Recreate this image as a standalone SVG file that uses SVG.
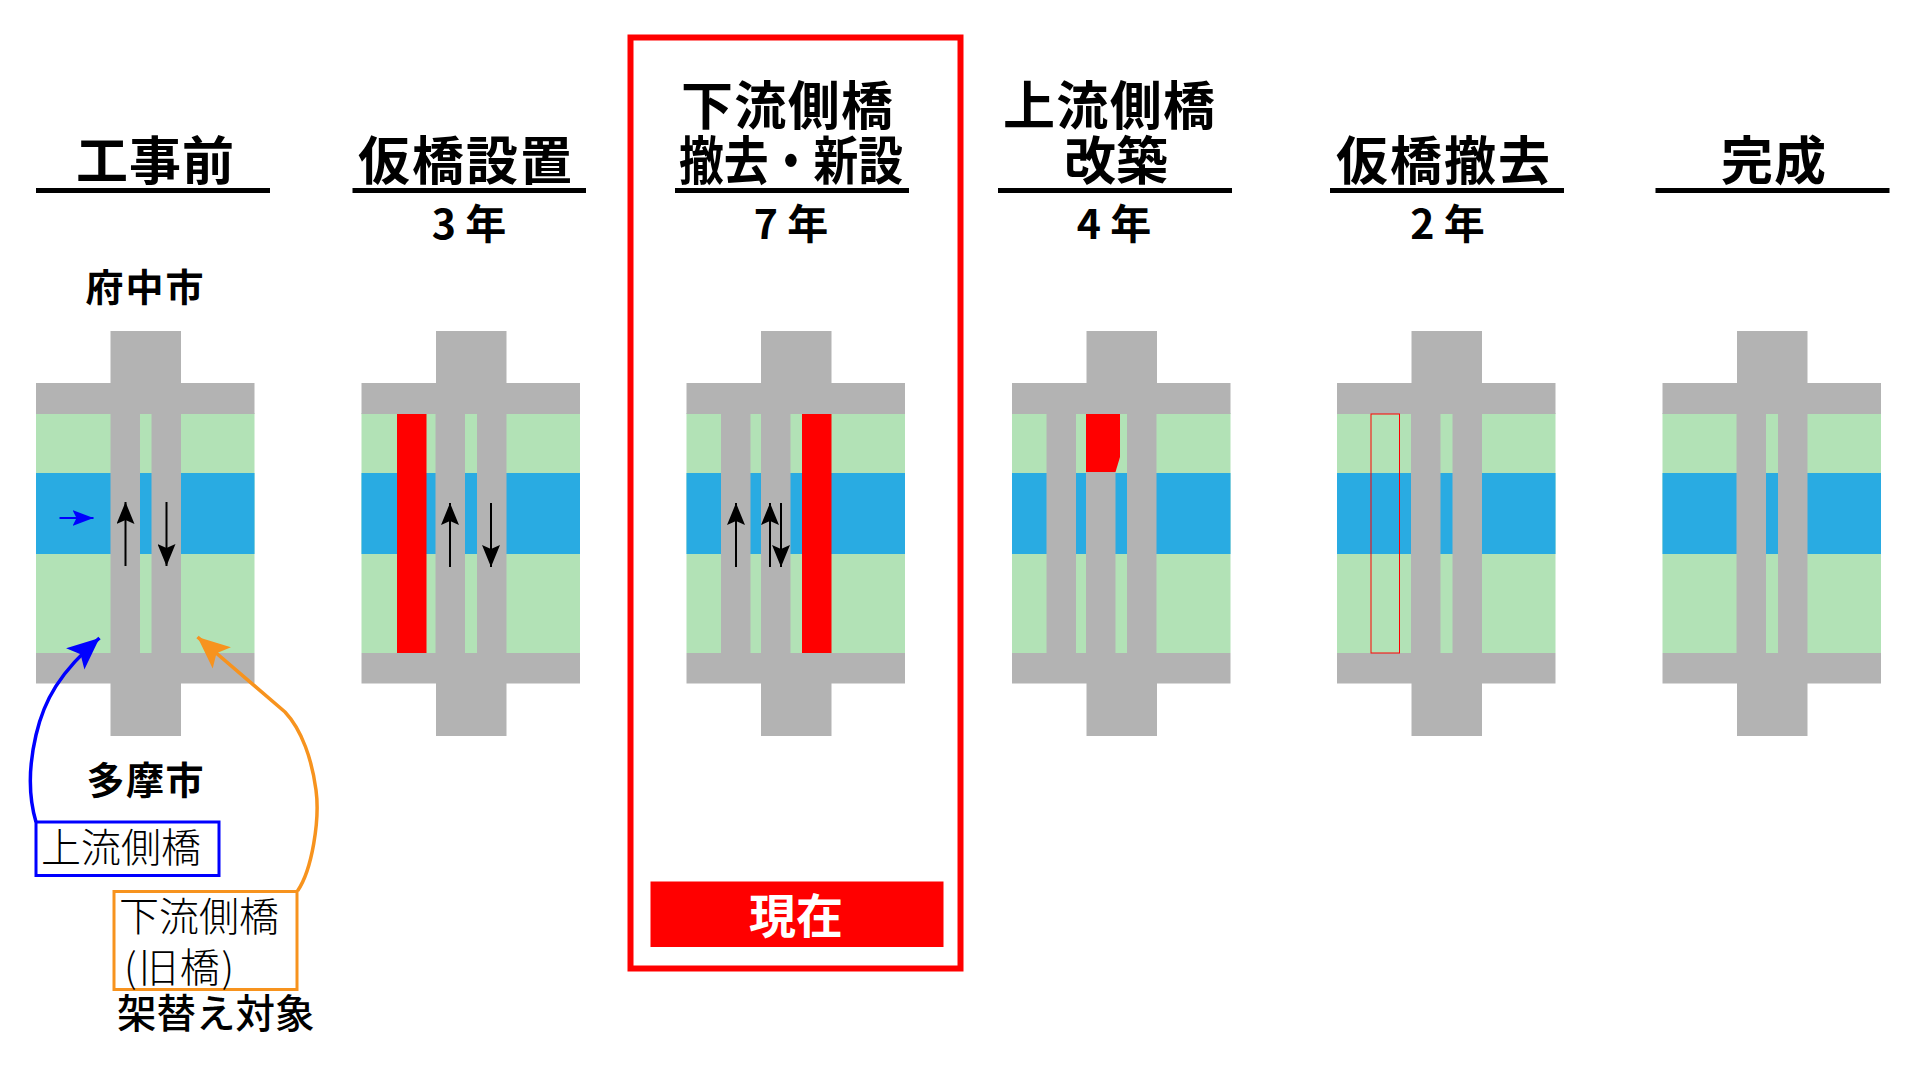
<svg xmlns="http://www.w3.org/2000/svg" xmlns:xlink="http://www.w3.org/1999/xlink" width="1920" height="1080" viewBox="0 0 1920 1080">
<style>
text{font-family:"Noto Sans CJK JP","Noto Sans",sans-serif;fill:#000}
.t{font-size:52px;font-weight:700}
.y{font-size:41px;font-weight:700}
.c{font-size:38px;font-weight:700}
.l{font-size:40px;font-weight:300}
.g{fill:#b3b3b3}
.gn{fill:#b2e2b6}
.bl{fill:#29abe2}
.r{fill:#f00}
.a{stroke:#000;stroke-width:2;fill:none;marker-end:url(#ah)}
</style>
<defs>
<marker id="ah" markerUnits="userSpaceOnUse" markerWidth="23" markerHeight="18" refX="22" refY="9" orient="auto" viewBox="0 0 23 18"><path d="M0,0L22,9L0,18L4,9Z" fill="#000"/></marker>
<marker id="ab" markerUnits="userSpaceOnUse" markerWidth="22" markerHeight="18" refX="21" refY="8" orient="auto" viewBox="0 0 22 16"><path d="M0,0L21,8L0,16L4,8Z" fill="#00f"/></marker>
<marker id="bb" markerUnits="userSpaceOnUse" markerWidth="34" markerHeight="30" refX="32" refY="14" orient="auto" viewBox="0 0 34 28"><path d="M0,0L32,14L0,28L7,14Z" fill="#00f"/></marker>
<marker id="bo" markerUnits="userSpaceOnUse" markerWidth="34" markerHeight="30" refX="32" refY="14" orient="auto" viewBox="0 0 34 28"><path d="M0,0L32,14L0,28L7,14Z" fill="#f7931e"/></marker>
<g id="base">
<rect class="gn" x="0" y="413" width="218.500" height="240"/>
<rect class="bl" x="0" y="473" width="218.500" height="81"/>
<rect class="g" x="0" y="383" width="218.500" height="31"/>
<rect class="g" x="0" y="653" width="218.500" height="30.500"/>
<rect class="g" x="74.500" y="331" width="70.500" height="52"/>
<rect class="g" x="74.500" y="683" width="70.500" height="53"/>
</g>
</defs>

<g id="panel1">
<use xlink:href="#base" x="36"/>
<rect class="g" x="110.500" y="413" width="29.500" height="240"/>
<rect class="g" x="151.500" y="413" width="29.500" height="240"/>
<text class="t" x="76" y="180" textLength="158">工事前</text>
<rect x="36" y="188" width="234" height="5" fill="#000"/>
<text class="c" x="85.500" y="301" textLength="118">府中市</text>
<text class="c" x="86.500" y="794" textLength="117">多摩市</text>
</g>

<g id="panel2">
<use xlink:href="#base" x="361.500"/>
<rect class="r" x="397" y="414" width="29.500" height="239"/>
<rect class="g" x="435.500" y="413" width="29.500" height="240"/>
<rect class="g" x="477" y="413" width="29.500" height="240"/>
<text class="t" x="358" y="180" textLength="214">仮橋設置</text>
<rect x="352.500" y="188" width="233.500" height="5" fill="#000"/>
<text class="y" x="469" y="239" text-anchor="middle">3 年</text>
</g>

<g id="panel3">
<use xlink:href="#base" x="686.500"/>
<rect class="g" x="721" y="413" width="29.500" height="240"/>
<rect class="g" x="761" y="413" width="29.500" height="240"/>
<rect class="r" x="802" y="414" width="29.500" height="239"/>
<text class="t" x="681" y="125" textLength="212">下流側橋</text>
<text class="t" x="679" y="180" textLength="224" lengthAdjust="spacingAndGlyphs">撤去・新設</text>
<rect x="675" y="188" width="234" height="5" fill="#000"/>
<text class="y" x="791" y="239" text-anchor="middle">7 年</text>
<rect x="650.500" y="881.500" width="293" height="65.500" class="r"/>
<text x="796" y="933" text-anchor="middle" font-size="47" font-weight="700" style="fill:#fff">現在</text>
</g>

<g id="panel4">
<use xlink:href="#base" x="1012"/>
<rect class="g" x="1046.500" y="413" width="29.500" height="240"/>
<rect class="g" x="1086" y="472" width="29.500" height="181"/>
<rect class="g" x="1127" y="413" width="29.500" height="240"/>
<path class="r" d="M1086,414H1120V457L1115.500,472H1086Z"/>
<text class="t" x="1003" y="125" textLength="212">上流側橋</text>
<text class="t" x="1064" y="180" textLength="104">改築</text>
<rect x="998" y="188" width="234" height="5" fill="#000"/>
<text class="y" x="1114" y="239" text-anchor="middle">4 年</text>
</g>

<g id="panel5">
<use xlink:href="#base" x="1337"/>
<rect x="1371" y="414" width="28.500" height="239" fill="none" stroke="#f00" stroke-width="1"/>
<rect class="g" x="1411" y="413" width="29.500" height="240"/>
<rect class="g" x="1452.500" y="413" width="29.500" height="240"/>
<text class="t" x="1336" y="180" textLength="214">仮橋撤去</text>
<rect x="1330" y="188" width="234" height="5" fill="#000"/>
<text class="y" x="1447.500" y="239" text-anchor="middle">2 年</text>
</g>

<g id="panel6">
<use xlink:href="#base" x="1662.500"/>
<rect class="g" x="1736.500" y="413" width="29.500" height="240"/>
<rect class="g" x="1778" y="413" width="29.500" height="240"/>
<text class="t" x="1721" y="180" textLength="105">完成</text>
<rect x="1655.500" y="188" width="234" height="5" fill="#000"/>
</g>

<g id="label-upstream">
<rect x="36" y="822" width="183" height="53.500" fill="#fff" stroke="#00f" stroke-width="3"/>
<text class="l" x="41" y="862">上流側橋</text>
</g>
<g id="label-downstream">
<rect x="114" y="891.500" width="183" height="98" fill="#fff" stroke="#f7931e" stroke-width="3"/>
<text class="l" x="119" y="931">下流側橋</text>
<text class="l" x="124" y="982" font-size="41" textLength="110">(旧橋)</text>
<text x="117" y="1028" font-size="39.500" font-weight="500">架替え対象</text>
</g>

<g id="connectors">
<path class="a" d="M125.500,566V502"/>
<path class="a" d="M166.500,502V566"/>
<path class="a" d="M450,567V503"/>
<path class="a" d="M491,503V567"/>
<path class="a" d="M736,567V503"/>
<path class="a" d="M770,567V503"/>
<path class="a" d="M781,503V567"/>
<path d="M59.500,518H93.500" stroke="#00f" stroke-width="2" fill="none" marker-end="url(#ab)"/>
<path d="M36,822C28,795 29,765 36,735C44,700 60,672 99.500,638" stroke="#00f" stroke-width="3.500" fill="none" marker-end="url(#bb)"/>
<path d="M297.500,891C312,870 320,820 316,790C312,760 302,730 285,712L197.500,637" stroke="#f7931e" stroke-width="3.500" fill="none" marker-end="url(#bo)"/>
</g>
<rect id="current-frame" x="630.500" y="37.500" width="330" height="931" fill="none" stroke="#f00" stroke-width="6"/>
</svg>
